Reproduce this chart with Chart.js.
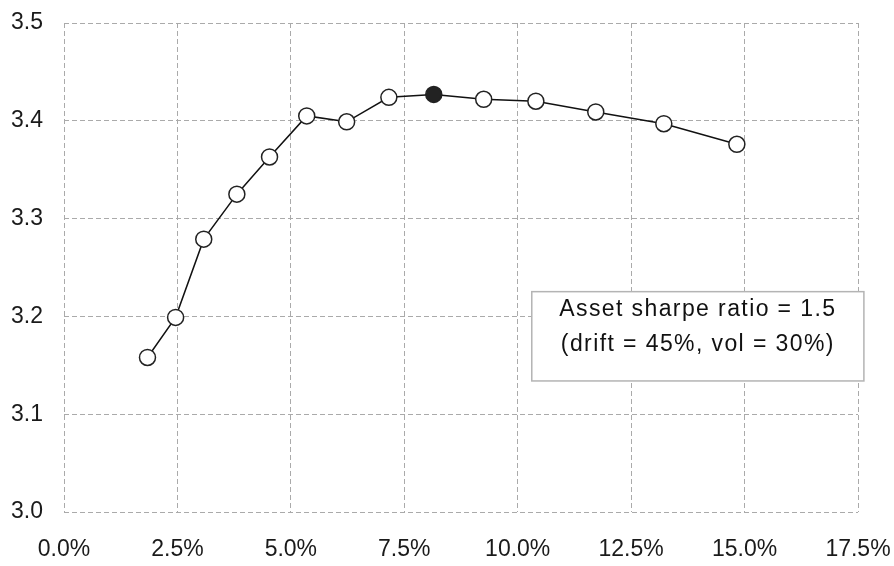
<!DOCTYPE html>
<html>
<head>
<meta charset="utf-8">
<script src="https://cdn.jsdelivr.net/npm/chart.js@4/dist/chart.umd.min.js"></script>
<style>
  html, body { margin: 0; padding: 0; background: #fff; }
  #wrap { width: 894px; height: 566px; }
</style>
</head>
<body>
<div id="wrap"><canvas id="sharpeChart"></canvas></div>
<script>
// leverage (%) vs. growth rate
const leverage = [1.84, 2.46, 3.08, 3.81, 4.53, 5.35, 6.23, 7.16, 8.15, 9.25, 10.40, 11.72, 13.22, 14.83];
const growth   = [3.158, 3.199, 3.279, 3.325, 3.363, 3.405, 3.399, 3.424, 3.427, 3.422, 3.420, 3.409, 3.397, 3.376];
const bestIndex = 8;   // the filled marker
const noteLines = ['Asset sharpe ratio = 1.5', '(drift = 45%, vol = 30%)'];

const FONT = '"Liberation Sans", Arial, sans-serif';

const points = leverage.map((x, i) => ({ x: x, y: growth[i] }));
const fills = leverage.map((_, i) => i === bestIndex ? '#222' : '#fff');

// text box inside the plot
const noteBox = {
   id: 'noteBox',
   afterDraw(chart) {
      const { ctx, scales } = chart;
      const x1 = scales.x.getPixelForValue(10.31);
      const x2 = scales.x.getPixelForValue(17.63);
      const y1 = scales.y.getPixelForValue(3.2253);
      const y2 = scales.y.getPixelForValue(3.134);
      ctx.save();
      ctx.fillStyle = '#fff';
      ctx.fillRect(x1, y1, x2 - x1, y2 - y1);
      ctx.strokeStyle = '#b4b4b4';
      ctx.lineWidth = 1.5;
      ctx.strokeRect(x1, y1, x2 - x1, y2 - y1);
      ctx.fillStyle = '#111';
      ctx.font = '23px ' + FONT;
      ctx.letterSpacing = '1.4px';
      ctx.textAlign = 'center';
      ctx.textBaseline = 'middle';
      const cx = (x1 + x2) / 2;
      ctx.fillText(noteLines[0], cx, y1 + 18);
      ctx.fillText(noteLines[1], cx, y1 + 53);
      ctx.restore();
   }
};

new Chart(document.getElementById('sharpeChart'), {
   type: 'scatter',
   data: {
      datasets: [{
         data: points,
         showLine: true,
         borderColor: '#111',
         borderWidth: 1.5,
         pointRadius: 8,
         pointHoverRadius: 8,
         pointBorderWidth: 1.5,
         pointBorderColor: '#222',
         pointBackgroundColor: fills
      }]
   },
   options: {
      responsive: true,
      maintainAspectRatio: false,
      animation: false,
      layout: { padding: { top: 23, right: 36, left: 0, bottom: 0 } },
      plugins: { legend: { display: false }, tooltip: { enabled: false } },
      scales: {
         x: {
            type: 'linear',
            min: 0,
            max: 17.5,
            afterFit: s => { s.height = 54; s.paddingLeft = 0; s.paddingRight = 0; },
            border: { display: false, dash: [5, 3] },
            grid: { color: '#aaaaaa', lineWidth: 1, drawTicks: false },
            ticks: {
               stepSize: 2.5,
               padding: 24,
               color: '#1a1a1a',
               font: { family: FONT, size: 23 },
               maxRotation: 0,
               callback: v => v.toFixed(1) + '%'
            }
         },
         y: {
            min: 3.0,
            max: 3.5,
            afterFit: s => { s.width = 64; s.paddingTop = 0; s.paddingBottom = 0; },
            border: { display: false, dash: [5, 3] },
            grid: { color: '#aaaaaa', lineWidth: 1, drawTicks: false },
            ticks: {
               stepSize: 0.1,
               padding: 21,
               color: '#1a1a1a',
               font: { family: FONT, size: 23 },
               callback: v => v.toFixed(1)
            }
         }
      }
   },
   plugins: [noteBox]
});
</script>
</body>
</html>
